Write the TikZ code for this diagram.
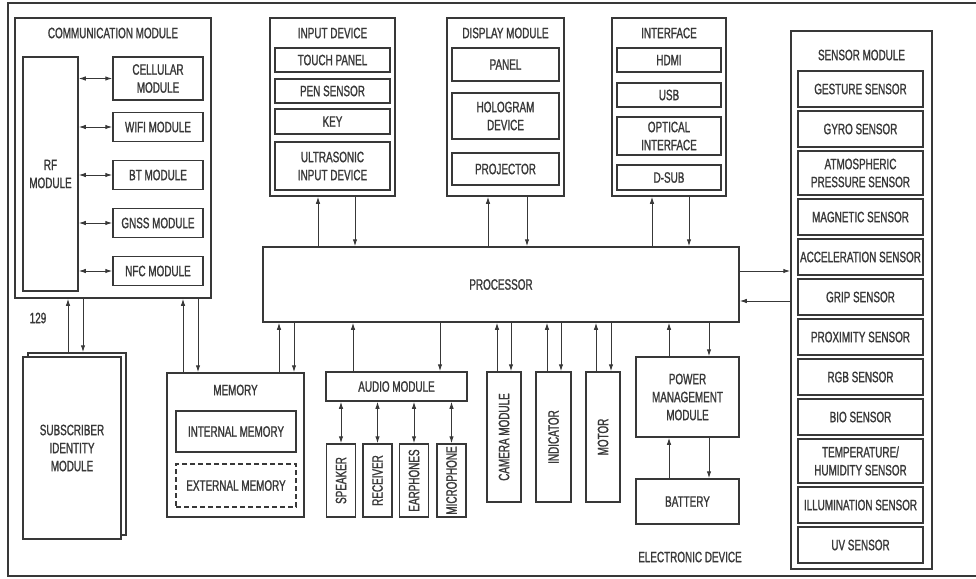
\documentclass[tikz,border=0pt]{standalone}
\usepackage{fontspec}
\setmainfont{Liberation Sans}[FakeStretch=0.66, FakeBold=1.2]
\usepackage{graphicx}
\usetikzlibrary{arrows.meta, positioning}
\definecolor{inkgray}{HTML}{383838}

\begin{document}
\begin{tikzpicture}[x=1pt, y=-1pt,
    blk/.style={draw=inkgray, line width=1.5pt, fill=white, inner sep=0pt, align=center,
                font=\fontsize{15}{18}\selectfont, text=inkgray},
    ttl/.style={inner sep=0pt, align=center, font=\fontsize{15}{18}\selectfont, text=inkgray},
    arr/.style={draw=inkgray, line width=1pt, -{Latex[length=7pt, width=4.5pt]}},
    dbl/.style={draw=inkgray, line width=1pt, {Latex[length=7pt, width=4.5pt]}-{Latex[length=7pt, width=4.5pt]}},
]
    \useasboundingbox (0,0) rectangle (976,578);
    \draw[inkgray, line width=1.5pt] (976,3) -- (8,3) -- (8,576) -- (976,576);

    % communication module
    \node[blk, minimum width=196pt, minimum height=280pt] (comm) at (113,158) {};
    \node[ttl] (commt) at (113,33) {COMMUNICATION MODULE};
    \node[blk, minimum width=55pt, minimum height=234pt] (rf) at (50.5,174) {RF\\MODULE};
    \node[blk, minimum width=90pt, minimum height=43pt] (cell) at (158,78.5) {CELLULAR\\MODULE};
    \node[blk, minimum width=90pt, minimum height=29pt] (wifi) at (158,127) {WIFI MODULE};
    \node[blk, minimum width=90pt, minimum height=29pt] (bt) at (158,175) {BT MODULE};
    \node[blk, minimum width=90pt, minimum height=29pt] (gnss) at (158,223) {GNSS MODULE};
    \node[blk, minimum width=90pt, minimum height=29pt] (nfc) at (158,271) {NFC MODULE};
    \draw[dbl] (rf.east |- cell.west) -- (cell.west);
    \draw[dbl] (rf.east |- wifi.west) -- (wifi.west);
    \draw[dbl] (rf.east |- bt.west) -- (bt.west);
    \draw[dbl] (rf.east |- gnss.west) -- (gnss.west);
    \draw[dbl] (rf.east |- nfc.west) -- (nfc.west);

    % subscriber identity module
    \node[blk, minimum width=98pt, minimum height=182pt] (simb) at (77,444) {};
    \node[blk, minimum width=98pt, minimum height=182pt] (sim) at (72,448) {SUBSCRIBER\\IDENTITY\\MODULE};
    \node[ttl] (num) at (38,318) {129};
    \draw[arr] (simb.north -| 68,0) -- (comm.south -| 68,0);
    \draw[arr] (comm.south -| 83,0) -- (simb.north -| 83,0);

    % processor
    \node[blk, minimum width=476pt, minimum height=75pt] (proc) at (501,284.5) {PROCESSOR};

    % memory
    \node[blk, minimum width=137pt, minimum height=144pt] (mem) at (235.5,445) {};
    \node[ttl] (memt) at (235.5,390) {MEMORY};
    \node[blk, minimum width=120pt, minimum height=41pt] (imem) at (236,431.5) {INTERNAL MEMORY};
    \node[blk, dash pattern=on 5pt off 3pt, minimum width=120pt, minimum height=43pt] (emem) at (236,485.5) {EXTERNAL MEMORY};
    \draw[arr] (mem.north -| 183,0) -- (comm.south -| 183,0);
    \draw[arr] (comm.south -| 198,0) -- (mem.north -| 198,0);
    \draw[arr] (mem.north -| 279,0) -- (proc.south -| 279,0);
    \draw[arr] (proc.south -| 294,0) -- (mem.north -| 294,0);

    % input device
    \node[blk, minimum width=125pt, minimum height=178pt] (inp) at (332.5,107) {};
    \node[ttl] (inpt) at (332.5,33) {INPUT DEVICE};
    \node[blk, minimum width=115pt, minimum height=24pt] (touch) at (332.5,60) {TOUCH PANEL};
    \node[blk, minimum width=115pt, minimum height=24pt] (pen) at (332.5,91) {PEN SENSOR};
    \node[blk, minimum width=115pt, minimum height=25pt] (key) at (332.5,121.5) {KEY};
    \node[blk, minimum width=115pt, minimum height=48pt] (ultra) at (332.5,166) {ULTRASONIC\\INPUT DEVICE};
    \draw[arr] (proc.north -| 318,0) -- (inp.south -| 318,0);
    \draw[arr] (inp.south -| 355,0) -- (proc.north -| 355,0);

    % display module
    \node[blk, minimum width=117pt, minimum height=178pt] (disp) at (505.5,107) {};
    \node[ttl] (dispt) at (505.5,33) {DISPLAY MODULE};
    \node[blk, minimum width=107pt, minimum height=33pt] (panel) at (505.5,64.5) {PANEL};
    \node[blk, minimum width=107pt, minimum height=46pt] (holo) at (505.5,116) {HOLOGRAM\\DEVICE};
    \node[blk, minimum width=107pt, minimum height=32pt] (proj) at (505.5,169) {PROJECTOR};
    \draw[arr] (proc.north -| 488,0) -- (disp.south -| 488,0);
    \draw[arr] (disp.south -| 527,0) -- (proc.north -| 527,0);

    % interface
    \node[blk, minimum width=114pt, minimum height=178pt] (intf) at (669,107) {};
    \node[ttl] (intft) at (669,33) {INTERFACE};
    \node[blk, minimum width=104pt, minimum height=24pt] (hdmi) at (669,60) {HDMI};
    \node[blk, minimum width=104pt, minimum height=24pt] (usb) at (669,95) {USB};
    \node[blk, minimum width=104pt, minimum height=38pt] (optic) at (669,136) {OPTICAL\\INTERFACE};
    \node[blk, minimum width=104pt, minimum height=25pt] (dsub) at (669,177.5) {D-SUB};
    \draw[arr] (proc.north -| 652,0) -- (intf.south -| 652,0);
    \draw[arr] (intf.south -| 689,0) -- (proc.north -| 689,0);

    % sensor module
    \node[blk, minimum width=141pt, minimum height=538pt] (sens) at (861.5,300) {};
    \node[ttl] (senst) at (861.5,55) {SENSOR MODULE};
    \node[blk, minimum width=125pt, minimum height=36pt] (gest) at (860.5,89) {GESTURE SENSOR};
    \node[blk, minimum width=125pt, minimum height=36pt] (gyro) at (860.5,129) {GYRO SENSOR};
    \node[blk, minimum width=125pt, minimum height=44pt] (atmo) at (860.5,173) {ATMOSPHERIC\\PRESSURE SENSOR};
    \node[blk, minimum width=125pt, minimum height=36pt] (magn) at (860.5,217) {MAGNETIC SENSOR};
    \node[blk, minimum width=125pt, minimum height=36pt] (accel) at (860.5,257) {ACCELERATION SENSOR};
    \node[blk, minimum width=125pt, minimum height=36pt] (grip) at (860.5,297) {GRIP SENSOR};
    \node[blk, minimum width=125pt, minimum height=36pt] (prox) at (860.5,337) {PROXIMITY SENSOR};
    \node[blk, minimum width=125pt, minimum height=36pt] (rgb) at (860.5,377) {RGB SENSOR};
    \node[blk, minimum width=125pt, minimum height=36pt] (bio) at (860.5,417) {BIO SENSOR};
    \node[blk, minimum width=125pt, minimum height=44pt] (temp) at (860.5,461) {TEMPERATURE/\\HUMIDITY SENSOR};
    \node[blk, minimum width=125pt, minimum height=36pt] (illum) at (860.5,505) {ILLUMINATION SENSOR};
    \node[blk, minimum width=125pt, minimum height=36pt] (uv) at (860.5,545) {UV SENSOR};
    \draw[arr] (proc.east |- 0,271) -- (sens.west |- 0,271);
    \draw[arr] (sens.west |- 0,301) -- (proc.east |- 0,301);

    % audio module
    \node[blk, minimum width=141pt, minimum height=29pt] (audio) at (396.5,386.5) {AUDIO MODULE};
    \node[blk, minimum width=29pt, minimum height=73pt] (spk) at (341,480.5) {\rotatebox{90}{SPEAKER}};
    \node[blk, minimum width=29pt, minimum height=73pt] (rcv) at (377.5,480.5) {\rotatebox{90}{RECEIVER}};
    \node[blk, minimum width=29pt, minimum height=73pt] (ear) at (414,480.5) {\rotatebox{90}{EARPHONES}};
    \node[blk, minimum width=29pt, minimum height=73pt] (mic) at (451.5,480.5) {\rotatebox{90}{MICROPHONE}};
    \draw[arr] (audio.north -| 353,0) -- (proc.south -| 353,0);
    \draw[arr] (proc.south -| 440,0) -- (audio.north -| 440,0);
    \draw[dbl] (audio.south -| spk.north) -- (spk.north);
    \draw[dbl] (audio.south -| rcv.north) -- (rcv.north);
    \draw[dbl] (audio.south -| ear.north) -- (ear.north);
    \draw[dbl] (audio.south -| mic.north) -- (mic.north);

    % camera, indicator, motor
    \node[blk, minimum width=34pt, minimum height=130pt] (cam) at (504,437) {\rotatebox{90}{CAMERA MODULE}};
    \node[blk, minimum width=35pt, minimum height=130pt] (ind) at (553.5,437) {\rotatebox{90}{INDICATOR}};
    \node[blk, minimum width=34pt, minimum height=130pt] (mot) at (603,437) {\rotatebox{90}{MOTOR}};
    \draw[arr] (cam.north -| 497,0) -- (proc.south -| 497,0);
    \draw[arr] (proc.south -| 511,0) -- (cam.north -| 511,0);
    \draw[arr] (ind.north -| 547,0) -- (proc.south -| 547,0);
    \draw[arr] (proc.south -| 561,0) -- (ind.north -| 561,0);
    \draw[arr] (mot.north -| 596,0) -- (proc.south -| 596,0);
    \draw[arr] (proc.south -| 611,0) -- (mot.north -| 611,0);

    % power
    \node[blk, minimum width=103pt, minimum height=80pt] (pmm) at (687.5,397) {POWER\\MANAGEMENT\\MODULE};
    \node[blk, minimum width=103pt, minimum height=45pt] (bat) at (687.5,501.5) {BATTERY};
    \draw[arr] (pmm.north -| 669,0) -- (proc.south -| 669,0);
    \draw[arr] (proc.south -| 709,0) -- (pmm.north -| 709,0);
    \draw[arr] (bat.north -| 669,0) -- (pmm.south -| 669,0);
    \draw[arr] (pmm.south -| 709,0) -- (bat.north -| 709,0);

    \node[ttl] (devt) at (690,557) {ELECTRONIC DEVICE};
\end{tikzpicture}
\end{document}
